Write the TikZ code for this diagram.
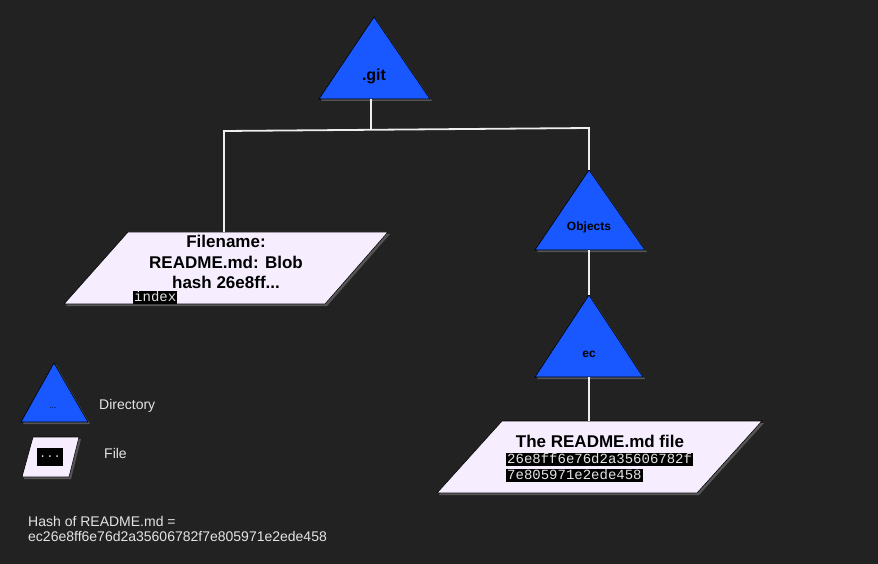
\documentclass[tikz,border=0pt]{standalone}
\usepackage{fontspec}
\setmainfont{Liberation Sans}
\setmonofont{Liberation Mono}
\usetikzlibrary{shadows}
\definecolor{hintergrund}{HTML}{222222}
\definecolor{ordner}{HTML}{1A58FF}
\definecolor{datei}{HTML}{F6EEFF}
\definecolor{linie}{HTML}{EEEEEE}
\definecolor{hell}{HTML}{E4E4E4}
\tikzset{
  schatten/.style={drop shadow={opacity=.55, shadow xshift=2pt, shadow yshift=-2pt}},
  ordnerform/.style={fill=ordner, draw=black, line width=.6pt, schatten},
  dateiform/.style={fill=datei, draw=black, line width=.6pt, schatten},
  verbindung/.style={draw=linie, line width=1.8pt},
  titel/.style={font=\fontsize{17}{20.5}\selectfont\bfseries, text=black, inner sep=0pt},
  ordnername/.style={font=\fontsize{12}{14}\selectfont\bfseries, text=black, inner sep=0pt},
  hashbox/.style={fill=black, text=hell, font=\fontsize{14}{14}\selectfont\ttfamily,
    inner xsep=1pt, inner ysep=0pt, text height=10pt, text depth=3pt, anchor=north west},
  legende/.style={font=\fontsize{14}{15}\selectfont, text=hell, inner sep=0pt}
}
\begin{document}
\begin{tikzpicture}[x=1pt, y=-1pt]
  % Hintergrund
  \fill [hintergrund] (0,0) rectangle (878,564);
  \useasboundingbox (0,0) rectangle (878,564);
  % Ordner
  \draw [ordnerform] (374,17) -- (430,99) -- (319,99) -- cycle;
  \node [titel, font=\fontsize{16}{20}\selectfont\bfseries, anchor=base] (git) at (374,81) {.git};
  \draw [ordnerform] (589,170) -- (645,250) -- (535,250) -- cycle;
  \node [ordnername, anchor=base] (objects) at (589,230) {Objects};
  \draw [ordnerform] (589,295) -- (643,377) -- (535,377) -- cycle;
  \node [ordnername, anchor=base] (ec) at (589,357) {ec};
  % Dateien
  \draw [dateiform] (128,232) -- (388,232) -- (325,304) -- (64,304) -- cycle;
  \node [titel, align=center] (index) at (226,262) {Filename:\\README.md: Blob\\hash 26e8ff...};
  \node [hashbox] (indexname) at (133,291) {index};
  \draw [dateiform] (502,421) -- (762,421) -- (697,493) -- (437,493) -- cycle;
  \node [titel, anchor=base] (readme) at (600,447) {The README.md file};
  \node [hashbox] (hash-a) at (506,453) {26e8ff6e76d2a35606782f};
  \node [hashbox] (hash-b) at (506,469) {7e805971e2ede458};
  % Verbindungen
  \coordinate (git-unten)     at (371,99);
  \coordinate (gabel-mitte)   at (371,130);
  \coordinate (gabel-links)   at (224,131);
  \coordinate (gabel-rechts)  at (589,128);
  \coordinate (index-oben)    at (224,232);
  \coordinate (objects-oben)  at (589,170);
  \coordinate (objects-unten) at (589,250);
  \coordinate (ec-oben)       at (589,295);
  \coordinate (ec-unten)      at (589,377);
  \coordinate (readme-oben)   at (589,421);
  \draw [verbindung] (git-unten) -- (gabel-mitte);
  \draw [verbindung] (index-oben) -- (gabel-links) -- (gabel-rechts) -- (objects-oben);
  \draw [verbindung] (objects-unten) -- (ec-oben);
  \draw [verbindung] (ec-unten) -- (readme-oben);
  % Legende
  \draw [ordnerform] (54,363) -- (88,422) -- (21,422) -- cycle;
  \node [font=\fontsize{8}{9}\selectfont, inner sep=0pt, anchor=base] (punkte-ordner) at (53,408) {...};
  \node [legende, anchor=west] (directory) at (99,406) {Directory};
  \draw [dateiform] (33,437) -- (79,437) -- (69,477) -- (22,477) -- cycle;
  \node [fill=black, text=hell, font=\fontsize{12}{12}\selectfont\ttfamily, inner sep=0pt,
    minimum width=26pt, minimum height=18pt] (punkte-datei) at (50,457) {...};
  \node [legende, anchor=west] (file) at (104,453) {File};
  \node [legende, align=left, anchor=west] (hashwert) at (28,529)
    {Hash of README.md =\\ec26e8ff6e76d2a35606782f7e805971e2ede458};
\end{tikzpicture}
\end{document}
